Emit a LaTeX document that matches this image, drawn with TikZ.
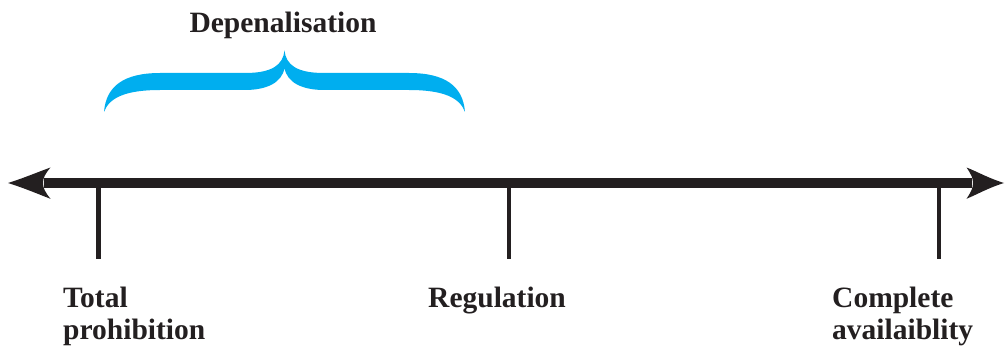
\documentclass[tikz,border=0pt]{standalone}
\usepackage{fontspec}
\setmainfont{Liberation Serif}
\definecolor{bracecyan}{HTML}{00AEEF}
\definecolor{axisblack}{HTML}{231F20}
\begin{document}
\begin{tikzpicture}[x=1pt,y=-1pt,
  axis/.style={line width=9.5pt,draw=axisblack},
  tick/.style={line width=4.8pt,draw=axisblack},
  head/.style={fill=axisblack,draw=none},
  lbl/.style={font=\bfseries\fontsize{29.5}{32}\selectfont,text=axisblack,inner sep=0pt,align=left,anchor=base west}]
\useasboundingbox (0,0) rectangle (1005,353);
% axis
\coordinate (AL) at (44,183);
\coordinate (AR) at (972,183);
\draw[axis] (AL) -- (AR);
% arrowheads
\fill[head] (8,183) .. controls (24,178) and (38,172) .. (50.5,167.5)
  .. controls (45,174) and (43,178) .. (43,183)
  .. controls (43,188) and (45,192) .. (50.5,198.8)
  .. controls (38,194) and (24,188) .. (8,183) -- cycle;
\fill[head] (1004,183) .. controls (988,178) and (978,172) .. (966.5,167.5)
  .. controls (971,174) and (973,178) .. (973,183)
  .. controls (973,188) and (971,192) .. (966.5,198.8)
  .. controls (978,194) and (988,188) .. (1004,183) -- cycle;
% ticks
\coordinate (T1a) at (98.5,183); \coordinate (T1b) at (98.5,259);
\coordinate (T2a) at (509,183);  \coordinate (T2b) at (509,259);
\coordinate (T3a) at (939,183);  \coordinate (T3b) at (939,259);
\draw[tick] (T1a) -- (T1b);
\draw[tick] (T2a) -- (T2b);
\draw[tick] (T3a) -- (T3b);
% brace
\fill[bracecyan] (104,112) .. controls (106,86) and (124,73) .. (160,73)
  -- (245,73) .. controls (272,73) and (283,65) .. (284.5,50.5)
  .. controls (286,65) and (297,73) .. (324,73)
  -- (409,73) .. controls (445,73) and (463,86) .. (465,112)
  .. controls (460,98) and (444,90) .. (409,90)
  -- (324,90) .. controls (303,90) and (287,83) .. (284.5,68)
  .. controls (282,83) and (266,90) .. (245,90)
  -- (160,90) .. controls (125,90) and (109,98) .. (104,112) -- cycle;
% labels
\node[lbl,anchor=base] (dep) at (283,33) {Depenalisation};
\node[lbl] (tot) at (63,339) {Total\\prohibition};
\node[lbl] (reg) at (428,307) {Regulation};
\node[lbl] (com) at (832,339) {Complete\\availaiblity};
\end{tikzpicture}
\end{document}
